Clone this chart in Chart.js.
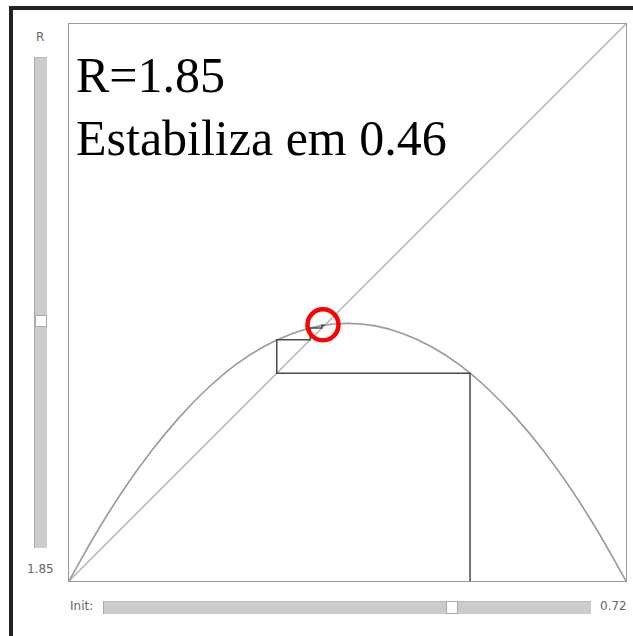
<!DOCTYPE html>
<html lang="pt">
<head>
  <meta charset="UTF-8" />
  <title>Mapa logístico</title>
  <script src="https://cdn.jsdelivr.net/npm/chart.js"></script>
  <style>
    body {
      margin: 0;
      width: 633px;
      height: 636px;
      background: #fff;
      position: relative;
      overflow: hidden;
      font-family: 'DejaVu Sans', sans-serif;
    }
    .frame-top { position: absolute; left: 9px; top: 6px; width: 624px; height: 4px; background: #222; }
    .frame-left { position: absolute; left: 9px; top: 6px; width: 4px; height: 630px; background: #222; }
    .plot-box {
      position: absolute; left: 68px; top: 23px; width: 557px; height: 557px;
      border: 1.5px solid #999;
    }
    #wrap { position: absolute; left: 69px; top: 24px; width: 557px; height: 557px; }
    .label { position: absolute; font-size: 12px; color: #666; line-height: 13px; }
    .track { position: absolute; background: #ccc; border-left: 1px solid #aaa; border-top: 1px solid #bbb; box-sizing: border-box; }
    .thumb { position: absolute; background: #fff; border: 1px solid #aaa; box-sizing: border-box; }
    .note {
      position: absolute; left: 76px; top: 44px;
      font-family: 'Liberation Serif', serif; font-size: 50px; line-height: 63px; color: #000;
      font-variant-numeric: oldstyle-nums;
    }
  </style>
</head>
<body>
  <div class="frame-top"></div>
  <div class="frame-left"></div>

  <div class="label" style="left:36px; top:31px;">R</div>
  <div class="track" style="left:34px; top:57px; width:13px; height:491px;"></div>
  <div class="thumb" style="left:35px; top:315px; width:12px; height:12px;"></div>
  <div class="label" style="left:27px; top:563px;">1.85</div>

  <div class="label" style="left:70px; top:600px;">Init:</div>
  <div class="track" style="left:103px; top:601px; width:488px; height:13px;"></div>
  <div class="thumb" style="left:446px; top:601px; width:12px; height:13px;"></div>
  <div class="label" style="left:600px; top:600px;">0.72</div>

  <div class="plot-box"></div>
  <div id="wrap"><canvas id="cobweb"></canvas></div>

  <div class="note">R=1.85<br>Estabiliza em 0.46</div>

  <script>
    // parabola (x, y)
    const curveX = [0, 0.05, 0.1, 0.15, 0.2, 0.25, 0.3, 0.35, 0.4, 0.45, 0.5,
                    0.55, 0.6, 0.65, 0.7, 0.75, 0.8, 0.85, 0.9, 0.95, 1];
    const curveY = [0, 0.088, 0.167, 0.236, 0.296, 0.347, 0.389, 0.421, 0.444, 0.458, 0.4625,
                    0.458, 0.444, 0.421, 0.389, 0.347, 0.296, 0.236, 0.167, 0.088, 0];

    // diagonal y = x
    const diagX = [0, 1];
    const diagY = [0, 1];

    // cobweb path starting at Init = 0.72
    const webX = [0.72, 0.72, 0.373, 0.373, 0.433, 0.433, 0.454, 0.454, 0.459];
    const webY = [0, 0.373, 0.373, 0.433, 0.433, 0.454, 0.454, 0.459, 0.459];

    // marked fixed point
    const fixedX = [0.456];
    const fixedY = [0.46];

    const pts = (xs, ys) => xs.map((x, i) => ({ x: x, y: ys[i] }));

    new Chart(document.getElementById('cobweb'), {
      type: 'scatter',
      data: {
        datasets: [
          {
            data: pts(diagX, diagY), showLine: true, borderColor: '#b4b4b4',
            borderWidth: 1.5, pointRadius: 0, order: 4
          },
          {
            data: pts(curveX, curveY), showLine: true, borderColor: '#9a9a9a',
            borderWidth: 1.6, pointRadius: 0, tension: 0.4, order: 3
          },
          {
            data: pts(webX, webY), showLine: true, borderColor: '#4a4a4a',
            borderWidth: 1.5, pointRadius: 0, order: 2
          },
          {
            data: pts(fixedX, fixedY), showLine: false, pointRadius: 15.5,
            pointBorderWidth: 4.5, pointBorderColor: '#f00',
            pointBackgroundColor: 'rgba(0,0,0,0)', order: 1
          }
        ]
      },
      options: {
        responsive: true,
        maintainAspectRatio: false,
        animation: false,
        layout: { padding: 0, autoPadding: false },
        plugins: { legend: { display: false }, tooltip: { enabled: false } },
        scales: {
          x: { type: 'linear', min: 0, max: 1, display: false },
          y: { type: 'linear', min: 0, max: 1, display: false }
        },
        events: []
      }
    });
  </script>
</body>
</html>
